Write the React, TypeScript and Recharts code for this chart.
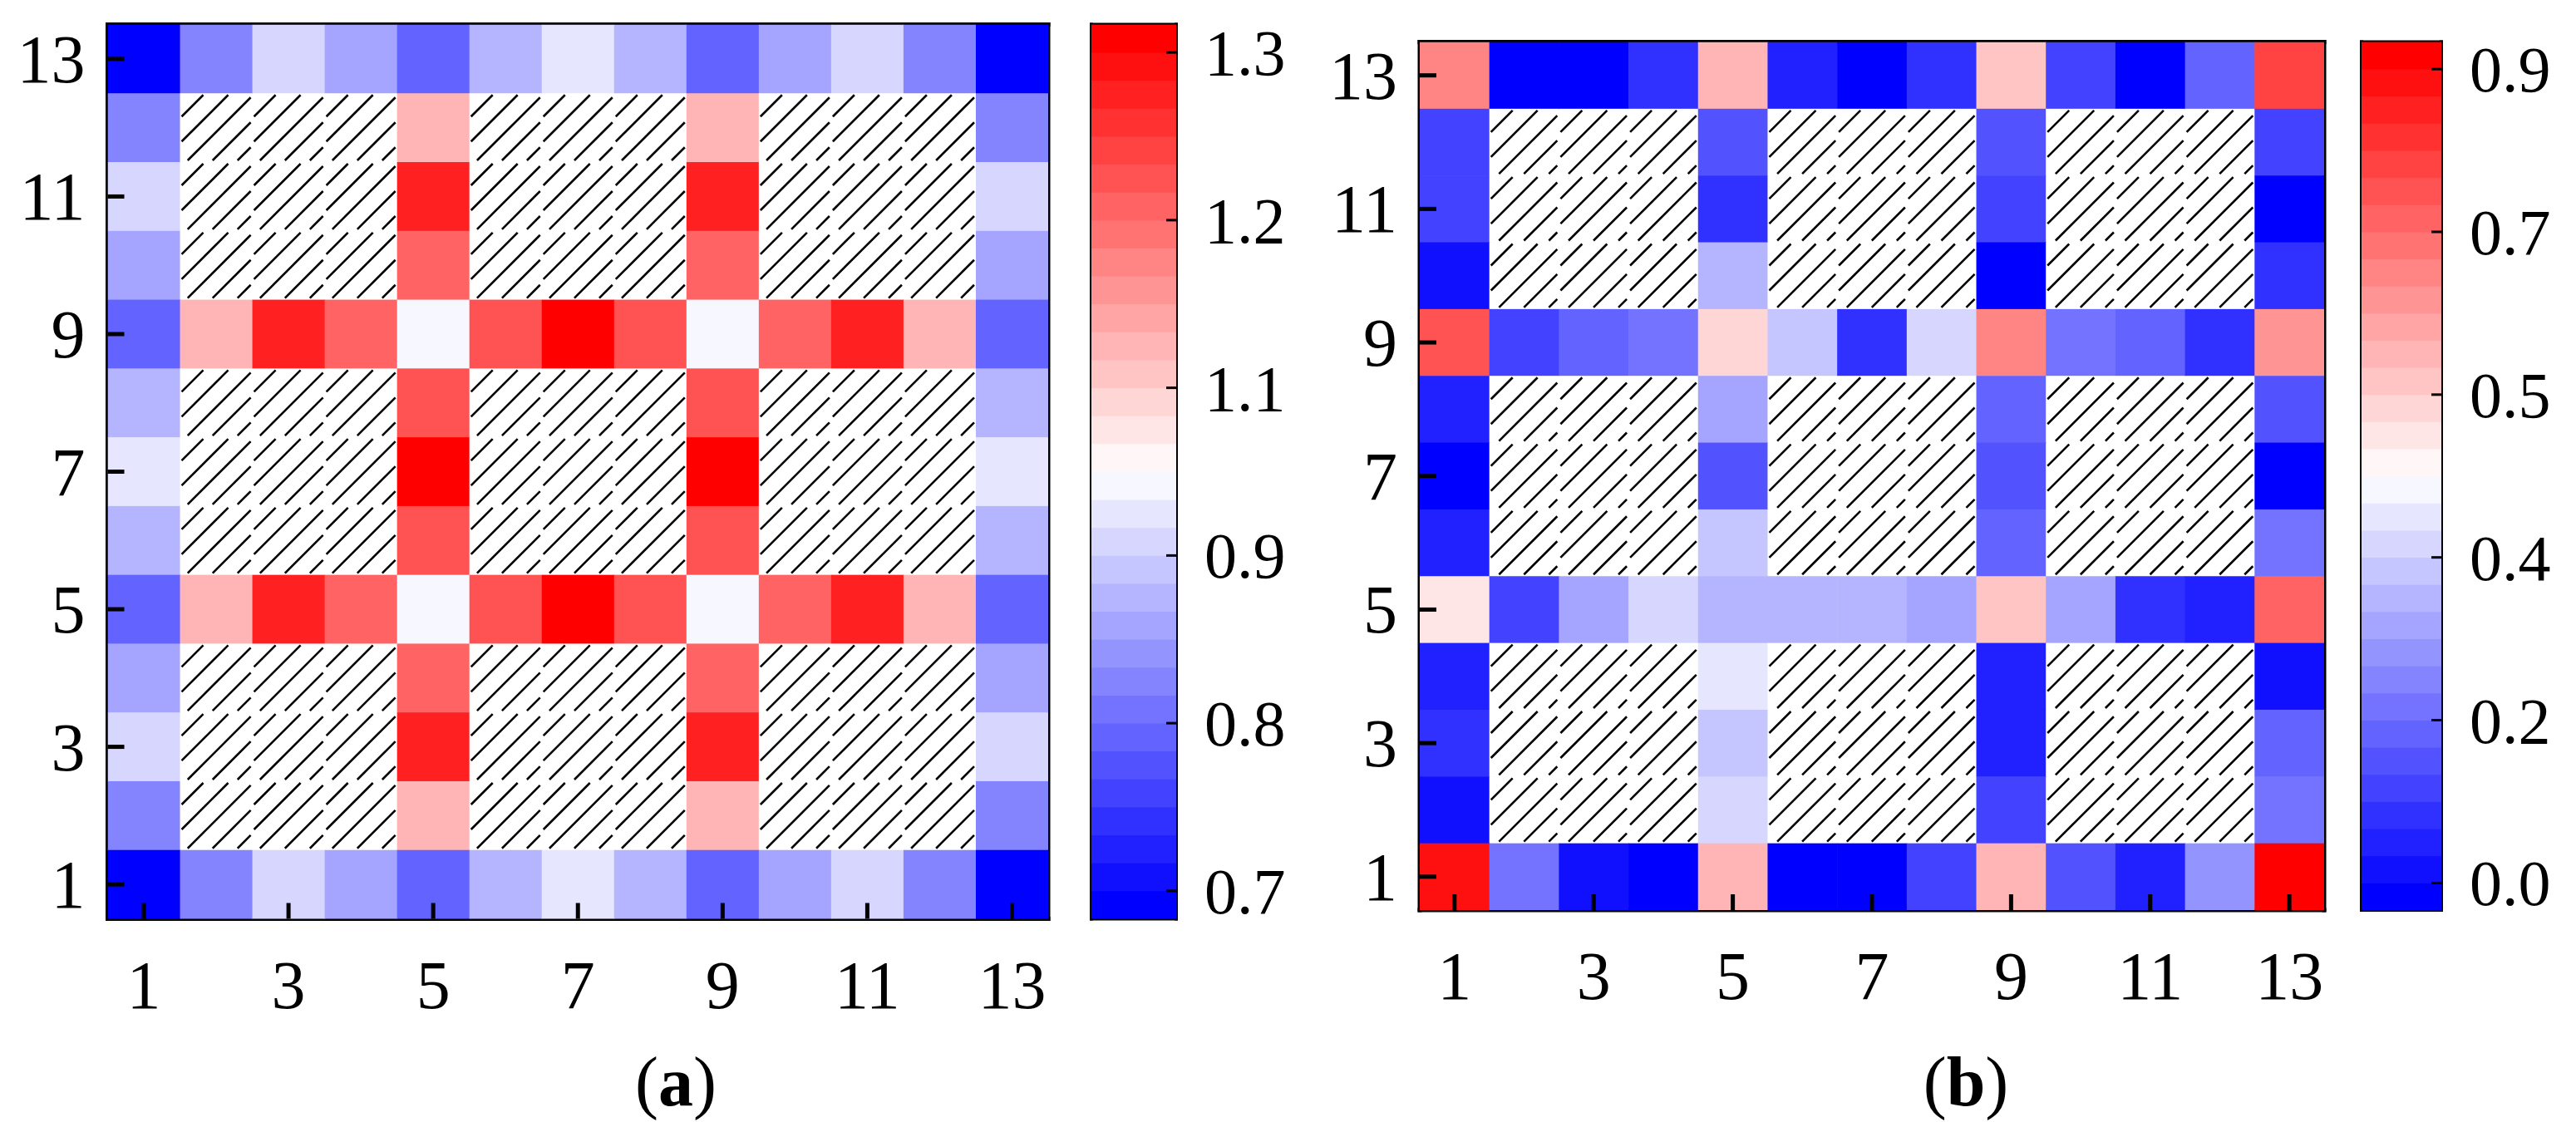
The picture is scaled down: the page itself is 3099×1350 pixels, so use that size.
import React from 'react';
import { ScatterChart, Scatter, XAxis, YAxis } from 'recharts';

const font = '"Liberation Serif", "Times New Roman", serif';

// grid positions 1..13 and the labelled ticks
const gridIdx = [1, 2, 3, 4, 5, 6, 7, 8, 9, 10, 11, 12, 13];
const axisTicks = [1, 3, 5, 7, 9, 11, 13];

// panel (a): rows from 13 (top) down to 1, null = hatched cell
const valuesA: (number | null)[][] = [
    [0.69, 0.85, 0.95, 0.89, 0.81, 0.91, 0.97, 0.91, 0.81, 0.89, 0.95, 0.85, 0.69],
    [0.85, null, null, null, 1.09, null, null, null, 1.09, null, null, null, 0.85],
    [0.95, null, null, null, 1.27, null, null, null, 1.27, null, null, null, 0.95],
    [0.89, null, null, null, 1.19, null, null, null, 1.19, null, null, null, 0.89],
    [0.81, 1.09, 1.27, 1.19, 0.99, 1.21, 1.31, 1.21, 0.99, 1.19, 1.27, 1.09, 0.81],
    [0.91, null, null, null, 1.21, null, null, null, 1.21, null, null, null, 0.91],
    [0.97, null, null, null, 1.31, null, null, null, 1.31, null, null, null, 0.97],
    [0.91, null, null, null, 1.21, null, null, null, 1.21, null, null, null, 0.91],
    [0.81, 1.09, 1.27, 1.19, 0.99, 1.21, 1.31, 1.21, 0.99, 1.19, 1.27, 1.09, 0.81],
    [0.89, null, null, null, 1.19, null, null, null, 1.19, null, null, null, 0.89],
    [0.95, null, null, null, 1.27, null, null, null, 1.27, null, null, null, 0.95],
    [0.85, null, null, null, 1.09, null, null, null, 1.09, null, null, null, 0.85],
    [0.69, 0.85, 0.95, 0.89, 0.81, 0.91, 0.97, 0.91, 0.81, 0.89, 0.95, 0.85, 0.69],
];

// panel (b)
const valuesB: (number | null)[][] = [
    [0.68, 0.00, 0.00, 0.08, 0.59, 0.05, 0.00, 0.08, 0.56, 0.11, 0.00, 0.17, 0.80],
    [0.11, null, null, null, 0.14, null, null, null, 0.14, null, null, null, 0.11],
    [0.11, null, null, null, 0.08, null, null, null, 0.11, null, null, null, 0.00],
    [0.02, null, null, null, 0.32, null, null, null, 0.00, null, null, null, 0.08],
    [0.77, 0.11, 0.17, 0.20, 0.53, 0.35, 0.08, 0.38, 0.68, 0.20, 0.17, 0.08, 0.65],
    [0.05, null, null, null, 0.29, null, null, null, 0.17, null, null, null, 0.14],
    [0.00, null, null, null, 0.14, null, null, null, 0.14, null, null, null, 0.00],
    [0.05, null, null, null, 0.35, null, null, null, 0.17, null, null, null, 0.20],
    [0.50, 0.11, 0.29, 0.38, 0.32, 0.32, 0.32, 0.29, 0.56, 0.29, 0.08, 0.05, 0.74],
    [0.05, null, null, null, 0.41, null, null, null, 0.05, null, null, null, 0.02],
    [0.08, null, null, null, 0.35, null, null, null, 0.05, null, null, null, 0.17],
    [0.02, null, null, null, 0.38, null, null, null, 0.11, null, null, null, 0.20],
    [0.89, 0.20, 0.02, 0.00, 0.59, 0.00, 0.00, 0.11, 0.59, 0.14, 0.05, 0.26, 0.92],
];

// colour scale limits and colour-bar ticks
const rangeA = [0.7, 1.3];
const rangeB = [0.0, 0.9];
const barTicksA = [0.7, 0.82, 0.94, 1.06, 1.18, 1.3];
const barTicksB = [0, 0.18, 0.36, 0.54, 0.72, 0.9];

const N_LEVELS = 30; // plus one "below" and one "above" band

const bandColor = (k: number) => {
    if (k < 16) {
        const c = Math.round((255 * k) / 15.5);
        return `rgb(${c},${c},255)`;
    }
    const c = Math.round((255 * (31 - k)) / 15.5);
    return `rgb(255,${c},${c})`;
};

const levelOf = (v: number, lo: number, hi: number) => {
    if (v <= lo) return 0;
    if (v >= hi) return 31;
    return 1 + Math.floor(((v - lo) / (hi - lo)) * N_LEVELS);
};

type Box = { x0: number; x1: number; y0: number; y1: number };

// axes take 1px each (recharts skips axes of size 0)
const marginFor = (plot: Box, left: number, width: number) => ({
    top: plot.y0 - 1,
    left: plot.x0 - left - 1,
    right: left + width - plot.x1 - 1,
    bottom: 1350 - plot.y1 - 1,
});

const Hatch = ({ x, y, w, h }: { x: number; y: number; w: number; h: number }) => {
    const g = 2;
    const lines = [];
    for (let s = 30; s < w + h; s += 30) {
        const xa = Math.max(g, s - (h - g));
        const xb = Math.min(w - g, s - g);
        if (xb - xa < 1) continue;
        lines.push(
            <line key={s} x1={x + xa} y1={y + s - xa} x2={x + xb} y2={y + s - xb} stroke="#000" strokeWidth={2.6} />
        );
    }
    return <g>{lines}</g>;
};

const HeatPanel = ({ values, range, left, width, plot }: { values: (number | null)[][]; range: number[]; left: number; width: number; plot: Box }) => {
    const cw = (plot.x1 - plot.x0) / 13;
    const ch = (plot.y1 - plot.y0) / 13;
    const data = values.flatMap((row, i) => row.map((v, j) => ({ x: gridIdx[j], y: gridIdx[12 - i], v })));
    const border = { stroke: '#000', strokeWidth: 5, strokeLinecap: 'square' as const };
    const ax0 = plot.x0 - left; // left edge in chart coordinates

    const shape = (p: any) => {
        const x = p.cx - cw / 2;
        const y = p.cy - ch / 2;
        const v = p.payload.v;
        if (v === null) {
            return (
                <g>
                    <rect x={x} y={y} width={cw} height={ch} fill="#fff" />
                    <Hatch x={x} y={y} w={cw} h={ch} />
                </g>
            );
        }
        return <rect x={x} y={y} width={cw + 0.6} height={ch + 0.6} fill={bandColor(levelOf(v, range[0], range[1]))} />;
    };

    const xTick = (p: any) => (
        <g>
            <line x1={p.x} x2={p.x} y1={plot.y1} y2={plot.y1 - 19} stroke="#000" strokeWidth={5} />
            <text x={p.x} y={plot.y1 + 107} textAnchor="middle" fontSize={82} fontFamily={font} fill="#000">
                {p.payload.value}
            </text>
        </g>
    );
    const yTick = (p: any) => (
        <g>
            <line x1={ax0} x2={ax0 + 20} y1={p.y} y2={p.y} stroke="#000" strokeWidth={5} />
            <text x={ax0 - 27} y={p.y + 28} textAnchor="end" fontSize={82} fontFamily={font} fill="#000">
                {p.payload.value}
            </text>
        </g>
    );

    return (
        <div style={{ position: 'absolute', left, top: 0 }}>
            <ScatterChart width={width} height={1350} margin={marginFor(plot, left, width)}>
                <Scatter data={data} shape={shape} isAnimationActive={false} />
                <XAxis type="number" dataKey="x" domain={[0.5, 13.5]} ticks={axisTicks} interval={0} height={1}
                    tickSize={0} tickMargin={0} axisLine={border} tickLine={false} tick={xTick} allowDataOverflow />
                <YAxis type="number" dataKey="y" domain={[0.5, 13.5]} ticks={axisTicks} interval={0} width={1}
                    tickSize={0} tickMargin={0} axisLine={border} tickLine={false} tick={yTick} allowDataOverflow />
                <XAxis xAxisId="top" orientation="top" type="number" domain={[0.5, 13.5]} ticks={axisTicks} height={1}
                    tick={false} tickLine={false} axisLine={border} />
                <YAxis yAxisId="right" orientation="right" type="number" domain={[0.5, 13.5]} ticks={axisTicks} width={1}
                    tick={false} tickLine={false} axisLine={border} />
            </ScatterChart>
        </div>
    );
};

const ColorBar = ({ range, ticks, left, width, plot }: { range: number[]; ticks: number[]; left: number; width: number; plot: Box }) => {
    const [lo, hi] = range;
    const step = (hi - lo) / N_LEVELS;
    // 30 levels between lo and hi, plus the below / above bands
    const bands = Array.from({ length: 32 }, (_, k) => ({ x: 0.5, y: lo + (k - 0.5) * step, k }));
    const bw = plot.x1 - plot.x0;
    const bh = (plot.y1 - plot.y0) / 32;
    const frame = { stroke: '#000', strokeWidth: 4, strokeLinecap: 'square' as const };
    const ax1 = plot.x1 - left; // right edge in chart coordinates

    const shape = (p: any) => (
        <rect x={p.cx - bw / 2} y={p.cy - bh / 2 - 0.4} width={bw} height={bh + 0.8} fill={bandColor(p.payload.k)} />
    );

    const tick = (p: any) => (
        <g>
            <line x1={ax1 - 12} x2={ax1} y1={p.y} y2={p.y} stroke="#000" strokeWidth={3} />
            <text x={ax1 + 34} y={p.y + 27} textAnchor="start" fontSize={78} fontFamily={font} fill="#000">
                {Number(p.payload.value).toFixed(1)}
            </text>
        </g>
    );

    return (
        <div style={{ position: 'absolute', left, top: 0 }}>
            <ScatterChart width={width} height={1350} margin={marginFor(plot, left, width)}>
                <Scatter data={bands} shape={shape} isAnimationActive={false} />
                <XAxis type="number" dataKey="x" domain={[0, 1]} ticks={[0, 1]} height={1} tick={false} tickLine={false} axisLine={frame} />
                <YAxis type="number" dataKey="y" orientation="right" domain={[lo - step, hi + step]} ticks={ticks} interval={0}
                    width={1} tickSize={0} tickMargin={0} tickLine={false} axisLine={frame} tick={tick} allowDataOverflow />
                <XAxis xAxisId="top" orientation="top" type="number" domain={[0, 1]} ticks={[0, 1]} height={1} tick={false} tickLine={false} axisLine={frame} />
                <YAxis yAxisId="left" orientation="left" type="number" domain={[0, 1]} ticks={[0, 1]} width={1} tick={false} tickLine={false} axisLine={frame} />
            </ScatterChart>
        </div>
    );
};

const App: React.FC = () => {
    return (
        <div style={{ position: 'absolute', left: 0, top: 0, width: 3099, height: 1350, background: '#fff', overflow: 'hidden' }}>
            <HeatPanel values={valuesA} range={rangeA} left={0} width={1290} plot={{ x0: 129.5, x1: 1261, y0: 29.5, y1: 1105.5 }} />
            <ColorBar range={rangeA} ticks={barTicksA} left={1290} width={300} plot={{ x0: 1313, x1: 1415, y0: 29.5, y1: 1105.5 }} />
            <HeatPanel values={valuesB} range={rangeB} left={1560} width={1260} plot={{ x0: 1708, x1: 2796, y0: 50.5, y1: 1095 }} />
            <ColorBar range={rangeB} ticks={barTicksB} left={2820} width={279} plot={{ x0: 2841, x1: 2937, y0: 50.5, y1: 1095 }} />
            <svg width={3099} height={1350} style={{ position: 'absolute', left: 0, top: 0, pointerEvents: 'none' }}>
                <text x={813} y={1330} textAnchor="middle" fontSize={84} fontFamily={font} fill="#000">
                    (<tspan fontWeight="bold">a</tspan>)
                </text>
                <text x={2365} y={1330} textAnchor="middle" fontSize={84} fontFamily={font} fill="#000">
                    (<tspan fontWeight="bold">b</tspan>)
                </text>
            </svg>
        </div>
    );
};

export default App;
